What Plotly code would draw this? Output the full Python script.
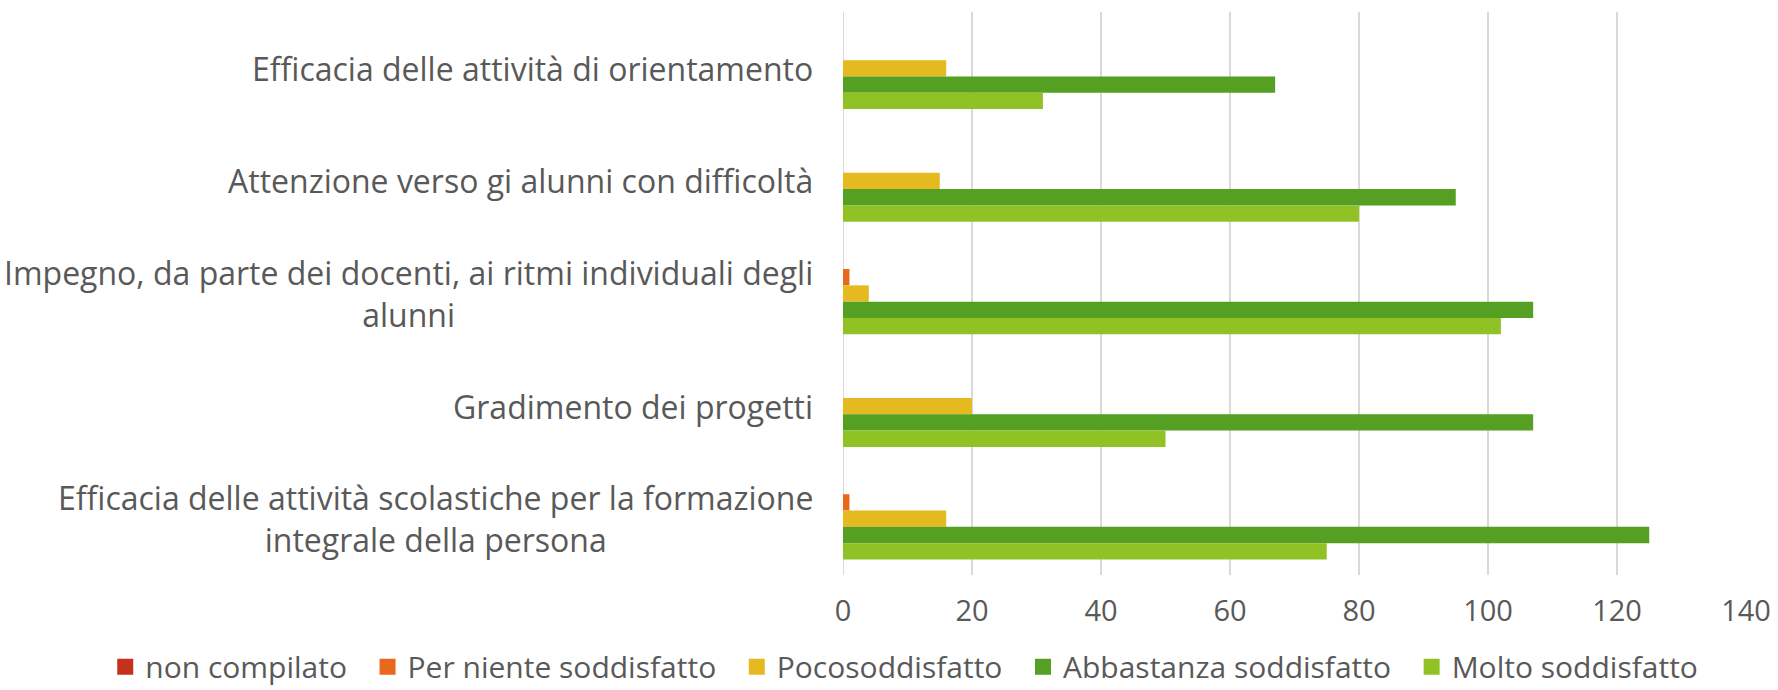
import plotly.graph_objects as go

# Survey categories, listed top to bottom
categories = [
    "Efficacia delle attività di orientamento",
    "Attenzione verso gi alunni con difficoltà",
    "Impegno, da parte dei docenti, ai ritmi individuali degli<br>alunni",
    "Gradimento dei progetti",
    "Efficacia delle attività scolastiche per la formazione<br>integrale della persona",
]

series_names = [
    "non compilato",
    "Per niente soddisfatto",
    "Pocosoddisfatto",
    "Abbastanza soddisfatto",
    "Molto soddisfatto",
]

non_compilato = [0, 0, 0, 0, 0]
per_niente = [0, 0, 1, 0, 1]
poco = [16, 15, 4, 20, 16]
abbastanza = [67, 95, 107, 107, 125]
molto = [31, 80, 102, 50, 75]

x_ticks = [0, 20, 40, 60, 80, 100, 120, 140]

colors = ["#C4311C", "#E8691B", "#E5B920", "#55A023", "#90C226"]
values = [non_compilato, per_niente, poco, abbastanza, molto]

FONT = "Open Sans, sans-serif"
GREY = "#595959"
NBSP = "\u00a0"

fig = go.Figure()
for name, vals, col in zip(series_names, values, colors):
    fig.add_trace(go.Bar(
        y=categories, x=vals, name=name, orientation="h",
        marker=dict(color=col, line=dict(width=0)),
        legendgroup=name, showlegend=False,
    ))

# Legend entries with larger square swatches and wider spacing
for name, col in zip(series_names, colors):
    fig.add_trace(go.Scatter(
        x=[None], y=[None], mode="markers", name=name + NBSP * 2,
        legendgroup=name,
        marker=dict(symbol="square", size=17, color=col),
    ))

# Category labels as annotations so wrapped lines are centred
for cat in categories:
    fig.add_annotation(
        x=0.0, xref="paper", xanchor="right", xshift=-28,
        y=cat, yref="y", text=cat, showarrow=False, align="center",
        font=dict(family=FONT, size=32, color=GREY),
    )

fig.update_layout(
    width=1778, height=690,
    paper_bgcolor="white", plot_bgcolor="white",
    margin=dict(l=843, r=32, t=12, b=115, autoexpand=False),
    barmode="group", bargap=0.275, bargroupgap=0,
    font=dict(family=FONT, size=28, color=GREY),
    xaxis=dict(
        range=[0, 140], tickvals=x_ticks, showgrid=True,
        gridcolor="#D9D9D9", gridwidth=2, zeroline=False,
        showline=False, ticks="", tickfont=dict(size=29, color=GREY),
        ticklabelstandoff=16,
    ),
    yaxis=dict(
        autorange="reversed", showticklabels=False, showgrid=False,
        zeroline=False, showline=False, ticks="",
    ),
    legend=dict(
        orientation="h", xref="paper", yref="paper",
        x=-0.817, xanchor="left", y=-0.163, yanchor="middle",
        font=dict(family=FONT, size=30, color=GREY), itemwidth=30,
        traceorder="normal",
    ),
    showlegend=True,
)
fig.add_vline(x=0, line=dict(color="#D9D9D9", width=2), layer="below")

fig.write_html("out.html")
